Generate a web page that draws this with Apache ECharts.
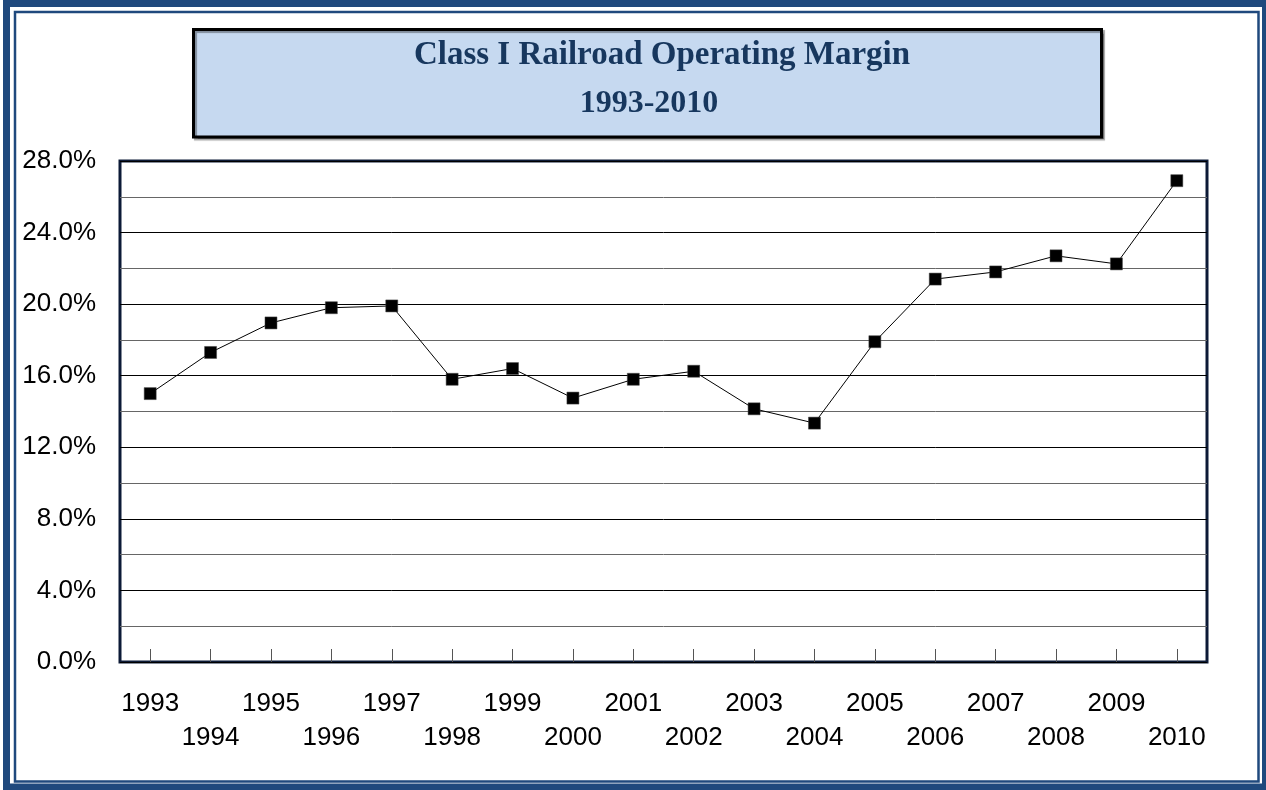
<!DOCTYPE html>
<html>
<head>
<meta charset="utf-8">
<title>Class I Railroad Operating Margin</title>
<script src="https://cdn.jsdelivr.net/npm/echarts@6/dist/echarts.min.js"></script>
<style>
  html, body { margin: 0; padding: 0; background: #fff; }
  #main { width: 1266px; height: 790px; }
</style>
</head>
<body>
<div id="main"></div>
<script>
// years on the x axis
var years = ['1993', '1994', '1995', '1996', '1997', '1998', '1999', '2000', '2001',
             '2002', '2003', '2004', '2005', '2006', '2007', '2008', '2009', '2010'];

// operating margin, percent
var margin = [15.0, 17.3, 18.95, 19.8, 19.9, 15.8, 16.4, 14.75, 15.8,
              16.25, 14.15, 13.35, 17.9, 21.4, 21.8, 22.7, 22.25, 26.9];

var titleLines = ['Class I Railroad Operating Margin', '1993-2010'];

var frameBlue = '#1f497d';
var titleBlue = '#17375e';

var chart = echarts.init(document.getElementById('main'));

chart.setOption({
  backgroundColor: '#fff',
  animation: false,
  title: [
    {
      text: titleLines[0],
      left: 657,
      textAlign: 'center',
      top: 34,
      textStyle: { fontFamily: 'Liberation Serif', fontWeight: 'bold', fontSize: 33, color: titleBlue }
    },
    {
      text: titleLines[1],
      left: 644,
      textAlign: 'center',
      top: 83,
      textStyle: { fontFamily: 'Liberation Serif', fontWeight: 'bold', fontSize: 32, color: titleBlue }
    }
  ],
  graphic: [
    // outer double frame
    {
      type: 'rect', z: -10, silent: true,
      shape: { x: 6.5, y: 3.5, width: 1259, height: 783.5 },
      style: { fill: null, stroke: frameBlue, lineWidth: 7 }
    },
    {
      type: 'rect', z: -10, silent: true,
      shape: { x: 15, y: 12, width: 1243.5, height: 769.5 },
      style: { fill: null, stroke: frameBlue, lineWidth: 2.5 }
    },
    // title box
    {
      type: 'rect', z: -5, silent: true,
      shape: { x: 193.5, y: 29.5, width: 908, height: 107.5 },
      style: {
        fill: '#c6d9f0', stroke: '#000', lineWidth: 3,
        shadowColor: 'rgba(0,0,0,0.35)', shadowOffsetX: 2, shadowOffsetY: 2, shadowBlur: 1
      }
    }
  ],
  grid: {
    left: 120,
    top: 161,
    right: 59,
    bottom: 128,
    show: true,
    backgroundColor: '#fff',
    borderColor: '#0c1a36',
    borderWidth: 3
  },
  xAxis: {
    type: 'category',
    data: years,
    boundaryGap: true,
    axisLine: { show: false },
    axisTick: {
      show: true,
      alignWithLabel: true,
      inside: true,
      length: 13,
      lineStyle: { color: '#555', width: 1 }
    },
    axisLabel: {
      interval: 0,
      margin: 25,
      fontFamily: 'Liberation Sans',
      fontSize: 26,
      color: '#000',
      lineHeight: 34,
      formatter: function (v, i) {
        return i % 2 === 0 ? v : '\n' + v;
      }
    },
    splitLine: { show: false }
  },
  yAxis: {
    type: 'value',
    min: 0,
    max: 28,
    interval: 2,
    axisLine: { show: false },
    axisTick: { show: false },
    axisLabel: {
      margin: 24,
      fontFamily: 'Liberation Sans',
      fontSize: 26,
      color: '#000',
      formatter: function (v) {
        return v % 4 === 0 ? v.toFixed(1) + '%' : '';
      }
    },
    splitLine: { show: true, lineStyle: { color: ['#000', '#666'], width: 1 } }
  },
  series: [
    {
      type: 'line',
      data: margin,
      symbol: 'rect',
      symbolSize: 12,
      showAllSymbol: true,
      lineStyle: { color: '#000', width: 1 },
      itemStyle: { color: '#000', borderColor: '#444', borderWidth: 0.5 },
      z: 5
    }
  ]
});
</script>
</body>
</html>
